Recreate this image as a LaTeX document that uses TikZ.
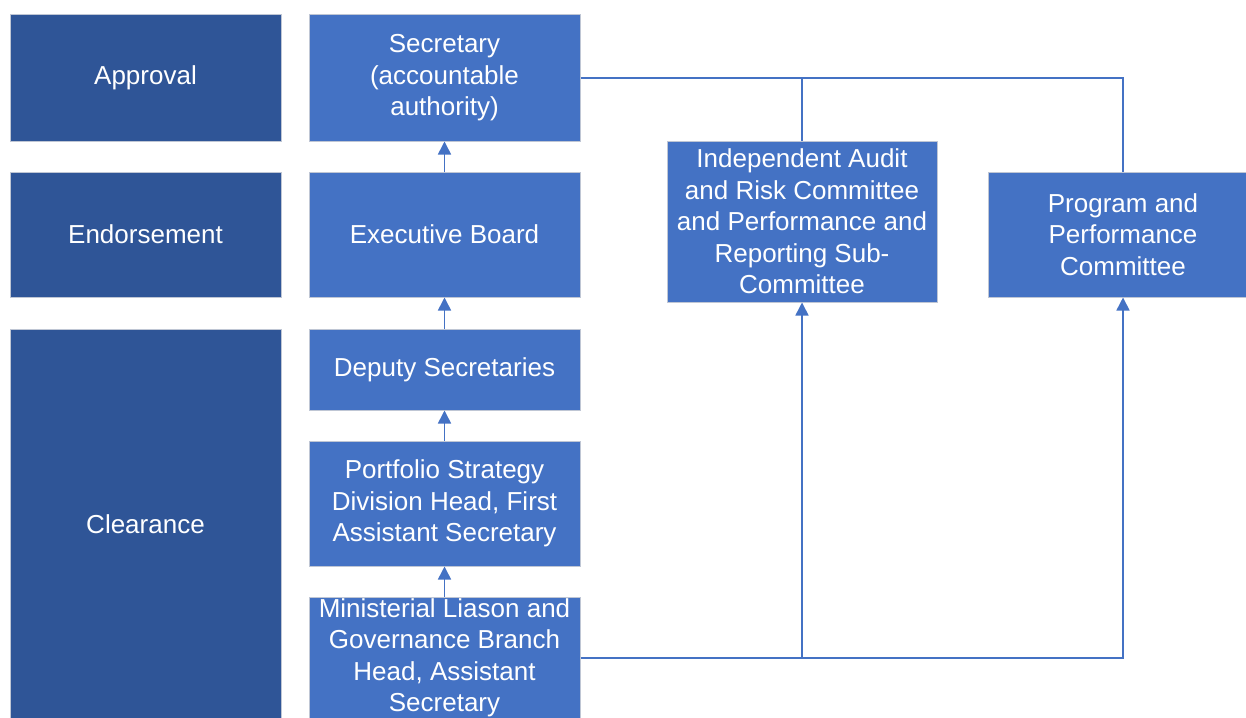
\documentclass[tikz,border=0pt]{standalone}
\usepackage{fontspec}
\setmainfont{Liberation Sans}
\usetikzlibrary{arrows.meta}
\definecolor{stageblue}{HTML}{2F5597}
\definecolor{roleblue}{HTML}{4472C4}
\definecolor{edgegrey}{HTML}{BFC6D4}
\tikzset{
  box/.style={draw=edgegrey, line width=1pt, text=white, align=center,
    inner sep=0pt, font=\fontsize{26}{31.5}\selectfont},
  stagebox/.style={box, fill=stageblue},
  rolebox/.style={box, fill=roleblue},
  conn/.style={draw=roleblue, line width=1.6pt},
  arr/.style={conn, -{Triangle[width=13pt,length=13pt]}}
}
\begin{document}
\begin{tikzpicture}[x=1pt,y=-1pt]
\useasboundingbox (0,0) rectangle (1246,717);
\clip (0,0) rectangle (1246,717);
% stage column
\node[stagebox, minimum width=271pt, minimum height=126pt] (approval) at (145.5,78) {Approval};
\node[stagebox, minimum width=271pt, minimum height=125pt] (endorse) at (145.5,234.5) {Endorsement};
\node[stagebox, minimum width=271pt, minimum height=390pt] (clear) at (145.5,524) {Clearance};
% approval chain
\node[rolebox, minimum width=271pt, minimum height=126pt] (sec) at (444.5,78) {Secretary\\(accountable\\authority)};
\node[rolebox, minimum width=271pt, minimum height=125pt] (eb) at (444.5,234.5) {Executive Board};
\node[rolebox, minimum width=271pt, minimum height=81pt] (dep) at (444.5,369.5) {Deputy Secretaries};
\node[rolebox, minimum width=271pt, minimum height=125pt] (port) at (444.5,503.5) {Portfolio Strategy\\Division Head, First\\Assistant Secretary};
\node[rolebox, minimum width=271pt, minimum height=122pt] (min) at (444.5,658) {Ministerial Liason and\\Governance Branch\\Head, Assistant\\Secretary};
% committees
\node[rolebox, minimum width=270pt, minimum height=161pt] (iarc) at (802,221.5) {Independent Audit\\and Risk Committee\\and Performance and\\Reporting Sub-\\Committee};
\node[rolebox, minimum width=270pt, minimum height=125pt] (prog) at (1123,234.5) {Program and\\Performance\\Committee};
% upward clearance arrows
\draw[arr] (min.north) -- (port.south);
\draw[arr] (port.north) -- (dep.south);
\draw[arr] (dep.north) -- (eb.south);
\draw[arr] (eb.north) -- (sec.south);
% committee links
\draw[conn] (sec.east) -| (prog.north);
\draw[conn] (iarc.north) -- (iarc.north |- sec.east);
\draw[arr] (min.east) -| (prog.south);
\draw[arr] (min.east -| iarc.south) -- (iarc.south);
\end{tikzpicture}
\end{document}
